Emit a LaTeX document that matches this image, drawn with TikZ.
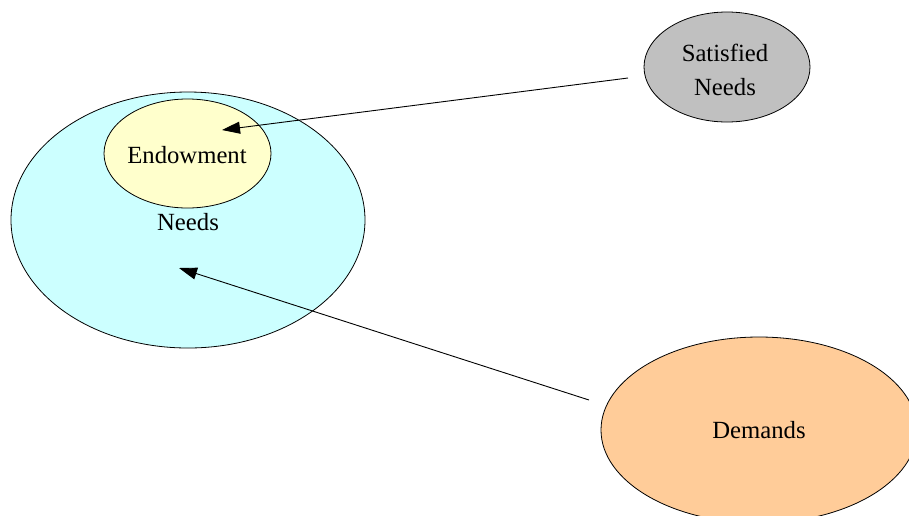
\documentclass[tikz,border=0pt]{standalone}
\usepackage{fontspec}
\setmainfont{Liberation Serif}
\usetikzlibrary{arrows.meta,shapes.geometric}
\definecolor{needsfill}{HTML}{CCFFFF}
\definecolor{endowfill}{HTML}{FFFFCC}
\definecolor{satfill}{HTML}{C0C0C0}
\definecolor{demfill}{HTML}{FFCC99}
\begin{document}
\begin{tikzpicture}[x=1pt,y=-1pt,
  blob/.style={ellipse,draw=black,line width=0.8pt,inner sep=0pt},
  lbl/.style={font=\fontsize{24.7}{34}\selectfont,align=center,inner sep=0pt},
  link/.style={draw=black,line width=0.9pt,-{Triangle[length=18pt,width=12pt]}}]
  \useasboundingbox (0,0) rectangle (909,515);
  % outer circle of needs, with the endowment inside it
  \node[blob,fill=needsfill,minimum width=354pt,minimum height=256pt] (needs) at (188,220) {};
  \node[lbl] (needslbl) at (188,222) {Needs};
  \node[blob,fill=endowfill,minimum width=167pt,minimum height=109pt] (endow) at (187.5,153.5) {};
  \node[lbl] (endowlbl) at (187,155) {Endowment};
  % satisfied needs
  \node[blob,fill=satfill,minimum width=166pt,minimum height=110pt] (sat) at (727,67) {};
  \node[lbl] (satlbl) at (725,70) {Satisfied\\Needs};
  % demands, running off the lower right edge
  \node[blob,fill=demfill,minimum width=316pt,minimum height=186pt] (dem) at (759,430) {};
  \node[lbl] (demlbl) at (759,430) {Demands};
  % arrows
  \coordinate (satend) at (628,78);
  \coordinate (endowtip) at (222,130);
  \coordinate (demend) at (589,400);
  \coordinate (needstip) at (179,268);
  \draw[link] (satend) -- (endowtip);
  \draw[link] (demend) -- (needstip);
\end{tikzpicture}
\end{document}
